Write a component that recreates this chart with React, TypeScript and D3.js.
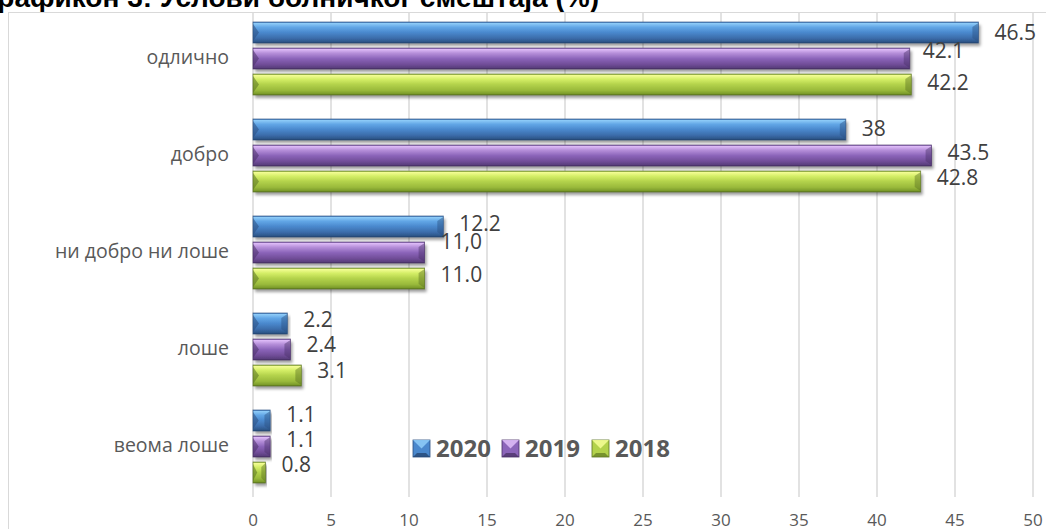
import React from "react";
import * as d3 from "d3";

const categories = ["одлично", "добро", "ни добро ни лоше", "лоше", "веома лоше"];
const seriesNames = ["2020", "2019", "2018"];
const values2020 = [46.5, 38, 12.2, 2.2, 1.1];
const values2019 = [42.1, 43.5, 11.0, 2.4, 1.1];
const values2018 = [42.2, 42.8, 11.0, 3.1, 0.8];
const labels2020 = ["46.5", "38", "12.2", "2.2", "1.1"];
const labels2019 = ["42.1", "43.5", "11,0", "2.4", "1.1"];
const labels2018 = ["42.2", "42.8", "11.0", "3.1", "0.8"];
const xTicks = [0, 5, 10, 15, 20, 25, 30, 35, 40, 45, 50];
const titleText = "Графикон 3: Услови болничког смештаја (%)";

const seriesValues = [values2020, values2019, values2018];
const seriesLabels = [labels2020, labels2019, labels2018];

const palettes = [
  { id: "g2020", edge: "#2b4f80", stops: ["#3f72b4", "#8ccaf7", "#62a6e6", "#4a88cd", "#3b6ca9", "#2e5689", "#213f68"] },
  { id: "g2019", edge: "#4a3168", stops: ["#7b58a8", "#dcb9f6", "#b58ed9", "#8c65ba", "#704d98", "#5b3e7e", "#442e60"] },
  { id: "g2018", edge: "#5a7222", stops: ["#8eb03c", "#f2fc92", "#d4ee66", "#b3d24b", "#99b93b", "#7b9b2b", "#5e7821"] },
];
const stopOffsets = [0, 0.07, 0.25, 0.5, 0.78, 0.94, 1];

// small manual nudges of the data labels (dx, dy) as in the original
const labelNudge = [
  [[0, 2], [-3, -6], [0, 0]],
  [[0, 1], [0, -1], [0, -2]],
  [[0, -1], [0, -9], [0, -2]],
  [[0, -2], [0, -3], [0, -3]],
  [[0, -4], [0, -5], [0, -6]],
];

const W = 1046;
const H = 529;
const labelFont = "'Open Sans', 'DejaVu Sans', sans-serif";

export default function App() {
  const x = d3.scaleLinear().domain([0, 50]).range([253, 1033]);
  const y = d3.scaleBand<string>().domain(categories).range([12, 497]).paddingInner(0).paddingOuter(0);
  const inner = d3.scaleBand<string>().domain(seriesNames).range([10, 83]).paddingInner(0.1923).paddingOuter(0);
  const bh = inner.bandwidth();

  const legendItems = seriesNames.map((s, i) => ({ name: s, x: [413, 502, 592][i] }));

  return (
    <svg width={W} height={H} style={{ position: "absolute", left: 0, top: 0, background: "#fff" }}>
      <defs>
        {palettes.map((p) => (
          <linearGradient key={p.id} id={p.id} x1="0" y1="0" x2="0" y2="1">
            {p.stops.map((c, k) => (
              <stop key={k} offset={stopOffsets[k]} stopColor={c} />
            ))}
          </linearGradient>
        ))}
        <filter id="shadow" x="-5%" y="-30%" width="115%" height="180%">
          <feDropShadow dx="2" dy="3" stdDeviation="1.6" floodColor="#000" floodOpacity="0.38" />
        </filter>
      </defs>

      {/* title */}
      <text x={-17.5} y={7} fontFamily="'Liberation Sans', Arial, sans-serif" fontWeight="bold" fontSize={28} fill="#000">
        {titleText}
      </text>

      {/* chart frame */}
      <rect x={8.5} y={12.5} width={W + 20} height={H + 20} fill="none" stroke="#d9d9d9" strokeWidth={1} />

      {/* gridlines */}
      {xTicks.map((t) => (
        <line key={t} x1={x(t)} x2={x(t)} y1={12} y2={497} stroke="#d9d9d9" strokeWidth={1.5} />
      ))}

      {/* tick labels */}
      {xTicks.map((t) => (
        <text key={"t" + t} x={x(t)} y={526} textAnchor="middle" fontFamily={labelFont} fontSize={17} fill="#595959">
          {t}
        </text>
      ))}

      {/* category labels */}
      {categories.map((c) => (
        <text
          key={c}
          x={229}
          y={(y(c) as number) + y.bandwidth() / 2 - 2}
          textAnchor="end"
          dominantBaseline="middle"
          fontFamily={labelFont}
          fontSize={19.5}
          fill="#595959"
        >
          {c}
        </text>
      ))}

      {/* bars */}
      {categories.map((c, ci) =>
        seriesNames.map((s, si) => {
          const v = seriesValues[si][ci];
          const p = palettes[si];
          const y0 = (y(c) as number) + (inner(s) as number);
          const x0 = x(0);
          const x1 = x(v);
          const w = x1 - x0;
          const bev = Math.min(6, w / 3);
          return (
            <g key={c + s}>
              <rect x={x0} y={y0} width={w} height={bh} fill={`url(#${p.id})`} filter="url(#shadow)" />
              <polygon
                points={`${x0},${y0 + 2} ${x0 + bev},${y0 + bh / 2} ${x0},${y0 + bh - 2}`}
                fill={p.edge}
                opacity={0.55}
              />
              <polygon
                points={`${x1 - bev},${y0 + 5} ${x1},${y0 + 1} ${x1},${y0 + bh - 1} ${x1 - bev},${y0 + bh - 5}`}
                fill={p.edge}
                opacity={0.45}
              />
              <rect x={x0} y={y0} width={w} height={bh} fill="none" stroke={p.edge} strokeWidth={0.8} opacity={0.8} />
            </g>
          );
        })
      )}

      {/* value labels */}
      {categories.map((c, ci) =>
        seriesNames.map((s, si) => {
          const v = seriesValues[si][ci];
          const y0 = (y(c) as number) + (inner(s) as number);
          const [dx, dy] = labelNudge[ci][si];
          return (
            <text
              key={"l" + c + s}
              x={x(v) + 16 + dx}
              y={y0 + bh / 2 + dy}
              dominantBaseline="middle"
              fontFamily={labelFont}
              fontSize={21}
              fill="#404040"
            >
              {seriesLabels[si][ci]}
            </text>
          );
        })
      )}

      {/* legend */}
      {legendItems.map((item, i) => {
        const p = palettes[i];
        const sz = 17;
        const lx = item.x;
        const ly = 440;
        const b = 4;
        return (
          <g key={item.name}>
            <rect x={lx} y={ly} width={sz} height={sz} fill={p.stops[3]} stroke={p.edge} strokeWidth={0.8} />
            <polygon points={`${lx},${ly} ${lx + sz},${ly} ${lx + sz / 2},${ly + sz / 2}`} fill={p.stops[1]} opacity={0.9} />
            <polygon points={`${lx},${ly + sz} ${lx + sz},${ly + sz} ${lx + sz - b},${ly + sz - b} ${lx + b},${ly + sz - b}`} fill={p.stops[6]} opacity={0.7} />
            <text x={lx + 23} y={ly + 17} fontFamily={labelFont} fontWeight="bold" fontSize={24} fill="#595959">
              {item.name}
            </text>
          </g>
        );
      })}
    </svg>
  );
}
